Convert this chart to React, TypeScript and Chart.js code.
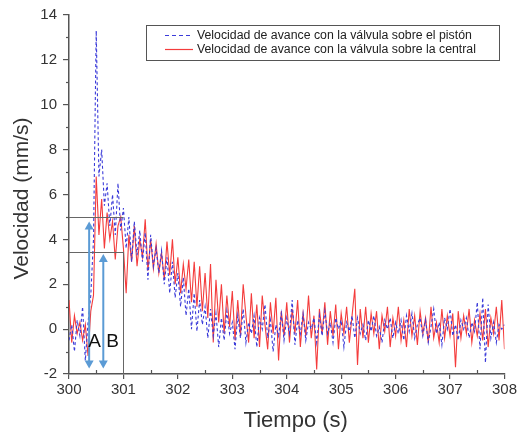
import React, { useEffect, useRef } from "react";
import { Chart, registerables } from "chart.js";

Chart.register(...registerables);

const T_START = 300;
const T_STEP = 0.05;

const seriesLabels = [
  "Velocidad de avance con la válvula sobre el pistón",
  "Velocidad de avance con la válvula sobre la central",
];
const xTitle = "Tiempo (s)";
const yTitle = "Velocidad (mm/s)";

const piston = [
  -0.5, 0.2, -1.0, 0.4, -0.3, 1.0, -1.4, 0.3, 1.5, 4.0, 13.3, 6.8, 8.0, 5.5, 6.5, 4.6, 6.0, 4.2, 6.5, 4.4,
  5.4, 3.6, 5.0, 3.0, 4.8, 3.3, 4.4, 3.0, 4.3, 2.2, 4.2, 2.8, 3.6, 2.5, 3.5, 2.0, 3.2, 1.6, 3.0, 1.4,
  2.5, 1.0, 2.3, 0.6, 1.8, 0.0, 1.6, -0.1, 1.3, 0.2, 1.0, -0.4, 0.9, -0.3, 0.7, -0.8, 0.5, -0.5, 0.8, -0.2,
  0.3, -0.9, 0.6, -0.4, 0.9, -0.6, 0.3, -0.2, 0.6, -0.8, 0.5, 0.0, 1.1, -0.4, 0.4, -1.0, 0.2, -0.3, 0.7, -0.5,
  0.5, -0.2, 1.3, -0.7, 0.4, -0.2, 0.7, -0.5, 0.3, 0.0, 0.5, -0.6, 0.6, -0.3, 0.8, -0.2, 0.3, -0.6, 0.5, 0.0,
  0.4, -0.8, 0.3, -0.1, 0.6, -0.4, 0.5, -0.2, 0.2, -0.5, 0.4, -0.1, 0.6, -0.3, 0.1, -0.6, 0.4, 0.0, 0.5, -0.4,
  0.3, -0.2, 0.4, -0.5, 0.6, -0.1, 0.7, -0.4, 0.2, 0.5, -0.3, 0.4, -0.6, 0.1, 0.9, -0.2, 0.3, -0.7, 0.5, 0.0,
  0.9, -0.3, 0.2, -0.5, 0.4, 0.0, 0.5, -0.4, 0.3, -0.1, 1.2, -0.9, 1.4, -1.5, 1.1, -0.4, 0.3, -0.6, 0.2, 0.0,
  0.2,
];

const central = [
  1.3, -0.6, 0.6, -0.2, 0.3, -0.5, 0.2, -1.2, 0.8, 1.5, 6.8, 4.2, 5.8, 3.6, 5.2, 4.0, 4.8, 3.1, 4.6, 5.0,
  3.6, 1.6, 4.2, 3.0, 4.6, 2.8, 4.0, 3.2, 4.9, 2.6, 4.0, 2.7, 3.8, 2.5, 3.4, 2.2, 3.9, 2.4, 4.0, 2.0,
  3.2, 1.6, 2.9, 1.8, 3.1, 1.2, 3.0, 1.0, 2.8, 0.8, 2.5, 0.5, 2.9, -0.6, 2.2, 0.3, 2.0, -0.2, 1.5, 0.1,
  1.7, -0.5, 1.3, -0.3, 2.0, 0.6, -0.6, 1.6, -0.4, 1.1, -0.8, 1.5, 0.2, -0.9, 1.2, -0.2, 1.4, -1.4, 0.8, -0.3,
  1.2, -0.6, 0.9, -0.2, 1.3, -0.8, 0.7, -0.3, 1.5, -0.4, 0.6, -1.8, 0.9, -0.2, 1.2, -0.7, 0.8, -0.3, 1.1, -0.9,
  0.7, -0.2, 1.0, -0.6, 0.6, 1.8, -1.6, 0.9, -0.4, 1.0, -0.6, 0.7, -0.2, 0.8, -0.9, 0.6, -0.1, 1.0, -0.8, 0.5,
  -0.3, 1.0, -0.5, 0.4, -0.8, 0.9, -0.3, 0.6, -0.7, 0.8, -0.2, 0.5, -0.6, 1.0, -0.4, 0.3, -0.6, 0.9, -0.4, 0.6,
  -0.3, 0.7, -1.7, 0.8, -0.4, 0.6, -0.2, 0.9, -0.6, 0.4, -0.3, 0.7, -0.5, 0.9, -0.8, 0.5, -0.2, 1.0, -0.5, 1.3,
  -0.9,
];

// annotation values (data units)
const refLevels = [5.0, 3.45];
const refTime = 301;
const arrowTimes = [300.37, 300.63];
const arrowTops = [4.8, 3.35];
const arrowBottom = -1.75;
const arrowLabels = ["A", "B"];
const arrowLabelTimes = [300.47, 300.8];
const arrowLabelLevel = -0.55;

const xMin = 300, xMax = 308, yMin = -2, yMax = 14;

const BLUE = "#3b3bd9";
const RED = "#f43c3c";
const AXIS = "#555555";
const FONT = "'Liberation Sans', Arial, sans-serif";

const overlayPlugin = {
  id: "overlay",
  afterDatasetsDraw(chart: any) {
    const { ctx, scales } = chart;
    const x = scales.x, y = scales.y;
    ctx.save();
    // minor ticks
    ctx.strokeStyle = AXIS;
    ctx.lineWidth = 1.2;
    for (let v = yMin + 1; v < yMax; v += 2) {
      const py = Math.round(y.getPixelForValue(v)) + 0.5;
      ctx.beginPath();
      ctx.moveTo(x.left - 3, py);
      ctx.lineTo(x.left, py);
      ctx.stroke();
    }
    for (let v = xMin + 0.5; v < xMax; v += 1) {
      const px = Math.round(x.getPixelForValue(v)) + 0.5;
      ctx.beginPath();
      ctx.moveTo(px, y.bottom);
      ctx.lineTo(px, y.bottom - 4);
      ctx.stroke();
    }
    // reference lines
    ctx.strokeStyle = "#666";
    ctx.lineWidth = 1;
    const rx = Math.round(x.getPixelForValue(refTime)) + 0.5;
    refLevels.forEach((lv) => {
      const py = Math.round(y.getPixelForValue(lv)) + 0.5;
      ctx.beginPath();
      ctx.moveTo(x.left, py);
      ctx.lineTo(rx, py);
      ctx.stroke();
    });
    ctx.beginPath();
    ctx.moveTo(rx, y.getPixelForValue(refLevels[1]));
    ctx.lineTo(rx, y.bottom);
    ctx.stroke();
    // arrows
    ctx.strokeStyle = "#5b9bd5";
    ctx.fillStyle = "#5b9bd5";
    ctx.lineWidth = 2;
    arrowTimes.forEach((t, i) => {
      const px = x.getPixelForValue(t);
      const top = y.getPixelForValue(arrowTops[i]);
      const bot = y.getPixelForValue(arrowBottom);
      ctx.beginPath();
      ctx.moveTo(px, top + 6);
      ctx.lineTo(px, bot - 6);
      ctx.stroke();
      ctx.beginPath();
      ctx.moveTo(px, top);
      ctx.lineTo(px - 4.5, top + 8);
      ctx.lineTo(px + 4.5, top + 8);
      ctx.closePath();
      ctx.fill();
      ctx.beginPath();
      ctx.moveTo(px, bot);
      ctx.lineTo(px - 4.5, bot - 8);
      ctx.lineTo(px + 4.5, bot - 8);
      ctx.closePath();
      ctx.fill();
    });
    ctx.fillStyle = "#111";
    ctx.font = "19px " + FONT;
    ctx.textAlign = "center";
    ctx.textBaseline = "middle";
    arrowLabels.forEach((l, i) => {
      ctx.fillText(l, x.getPixelForValue(arrowLabelTimes[i]), y.getPixelForValue(arrowLabelLevel));
    });
    // axis titles
    ctx.fillStyle = "#333";
    ctx.font = "22px " + FONT;
    ctx.fillText(xTitle, (x.left + x.right) / 2 + 9, 421);
    ctx.save();
    ctx.translate(22, (y.top + y.bottom) / 2 + 4);
    ctx.rotate(-Math.PI / 2);
    ctx.font = "21px " + FONT;
    ctx.fillText(yTitle, 0, 0);
    ctx.restore();
    // legend
    const bx = 146.5, by = 25.5, bw = 353, bh = 35;
    ctx.fillStyle = "#fff";
    ctx.fillRect(bx, by, bw, bh);
    ctx.strokeStyle = "#555";
    ctx.lineWidth = 1;
    ctx.strokeRect(bx, by, bw, bh);
    const colors = [BLUE, RED];
    const dashes = [[4, 3], []];
    ctx.font = "12.3px " + FONT;
    ctx.textAlign = "left";
    seriesLabels.forEach((lab, i) => {
      const ly = 35 + i * 14;
      ctx.strokeStyle = colors[i];
      ctx.lineWidth = 1.2;
      ctx.setLineDash(dashes[i]);
      ctx.beginPath();
      ctx.moveTo(165, ly + 0.5);
      ctx.lineTo(193, ly + 0.5);
      ctx.stroke();
      ctx.setLineDash([]);
      ctx.fillStyle = "#222";
      ctx.fillText(lab, 197, ly + 1);
    });
    ctx.restore();
  },
};

export default function App() {
  const ref = useRef<HTMLCanvasElement>(null);
  useEffect(() => {
    if (!ref.current) return;
    const times = central.map((_, i) => T_START + i * T_STEP);
    const chart = new Chart(ref.current, {
      type: "line",
      data: {
        datasets: [
          {
            label: seriesLabels[0],
            data: piston.map((v, i) => ({ x: times[i], y: v })),
            borderColor: BLUE,
            borderWidth: 1.1,
            borderDash: [3, 2.5],
            pointRadius: 0,
            tension: 0,
          },
          {
            label: seriesLabels[1],
            data: central.map((v, i) => ({ x: times[i], y: v })),
            borderColor: RED,
            borderWidth: 1.1,
            pointRadius: 0,
            tension: 0,
          },
        ],
      },
      options: {
        animation: false,
        responsive: false,
        layout: { padding: { top: 15, right: 11, left: 0, bottom: 0 } },
        plugins: { legend: { display: false }, tooltip: { enabled: false } },
        scales: {
          x: {
            type: "linear",
            min: xMin,
            max: xMax,
            afterFit: (s: any) => { s.height = 62; },
            ticks: {
              stepSize: 1,
              color: "#333",
              font: { size: 15, family: FONT },
              padding: 2,
              maxRotation: 0,
            },
            grid: { drawOnChartArea: false, drawTicks: true, tickLength: 5, color: AXIS, lineWidth: 1.2 },
            border: { display: true, color: AXIS, width: 1.5 },
            title: { display: false },
          },
          y: {
            type: "linear",
            min: yMin,
            max: yMax,
            afterFit: (s: any) => { s.width = 69; },
            ticks: {
              stepSize: 2,
              color: "#333",
              font: { size: 15, family: FONT },
              padding: 6,
            },
            grid: { drawOnChartArea: false, drawTicks: true, tickLength: 6, color: AXIS, lineWidth: 1.2 },
            border: { display: true, color: AXIS, width: 1.5 },
            title: { display: false },
          },
        },
      },
      plugins: [overlayPlugin],
    });
    return () => chart.destroy();
  }, []);
  return (
    <div style={{ position: "fixed", left: 0, top: 0, width: 519, height: 436, background: "#fff" }}>
      <canvas ref={ref} width={519} height={436} />
    </div>
  );
}
